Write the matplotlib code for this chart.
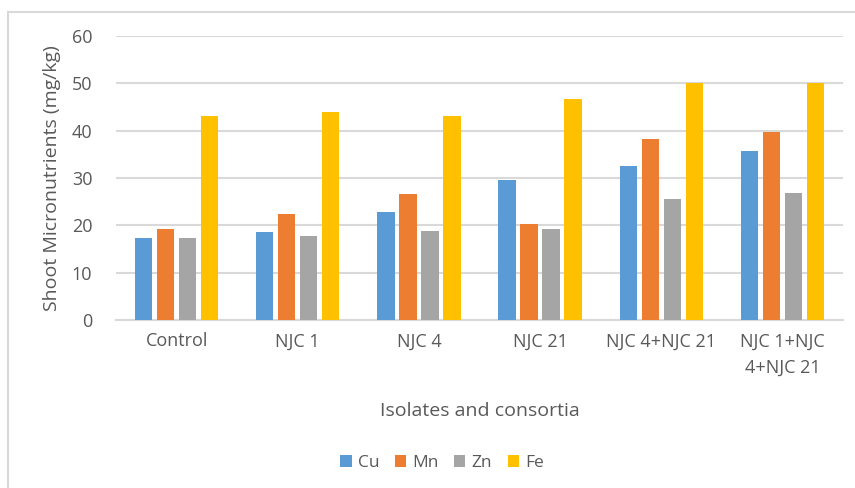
import matplotlib.pyplot as plt
import matplotlib.patches as mpatches
import numpy as np

plt.rcParams['font.family'] = ['Open Sans', 'DejaVu Sans']

categories = ['Control', 'NJC 1', 'NJC 4', 'NJC 21', 'NJC 4+NJC 21', 'NJC 1+NJC\n4+NJC 21']
nutrients = ['Cu', 'Mn', 'Zn', 'Fe']
cu = [17.4, 18.5, 22.8, 29.6, 32.6, 35.8]
mn = [19.2, 22.4, 26.7, 20.3, 38.3, 39.7]
zn = [17.4, 17.8, 18.7, 19.2, 25.6, 26.9]
fe = [43.0, 43.9, 43.2, 46.7, 50.1, 50.1]
colors = ['#5B9BD5', '#ED7D31', '#A5A5A5', '#FFC000']
text_color = '#595959'

W, H = 855, 488
fig = plt.figure(figsize=(W / 100, H / 100), dpi=100)

# chart area frame
fig.patches.append(mpatches.Rectangle((7.5 / W, -0.05), 1.1, (H - 12) / H + 0.05,
                                      transform=fig.transFigure, fill=False,
                                      edgecolor='#D9D9D9', linewidth=1.5))

ax = fig.add_axes([116 / W, (H - 320) / H, (843 - 116) / W, (320 - 36) / H])
x = np.arange(len(categories))
step = 0.1815
width = 0.142
for i, (vals, c, name) in enumerate(zip([cu, mn, zn, fe], colors, nutrients)):
    ax.bar(x + (i - 1.5) * step, vals, width, color=c, label=name, zorder=3)

ax.set_xlim(-0.5, len(categories) - 0.5)
ax.set_ylim(0, 60)
ax.set_yticks(range(0, 61, 10))
ax.yaxis.grid(True, color='#D9D9D9', linewidth=1.5, zorder=0)
for s in ['top', 'right', 'left']:
    ax.spines[s].set_visible(False)
ax.spines['bottom'].set_color('#D9D9D9')
ax.spines['bottom'].set_linewidth(1.5)
ax.set_xticks(x)
ax.set_xticklabels(categories, linespacing=1.6)
ax.tick_params(axis='both', length=0, labelsize=13, labelcolor=text_color)
ax.tick_params(axis='y', pad=17)
ax.tick_params(axis='x', pad=9)

ax.set_ylabel('Shoot Micronutrients (mg/kg)', fontsize=14, color=text_color, labelpad=8)
ax.set_xlabel('Isolates and consortia', fontsize=14, color=text_color, labelpad=18)

handles, labels = ax.get_legend_handles_labels()
fig.legend(handles, labels, loc='center', bbox_to_anchor=(442 / W, (H - 463) / H),
           ncol=4, frameon=False, fontsize=12.5, labelcolor=text_color,
           handlelength=0.65, handleheight=0.65, handletextpad=0.35, columnspacing=0.9)

fig.savefig('out.png', dpi=100, facecolor='white')
